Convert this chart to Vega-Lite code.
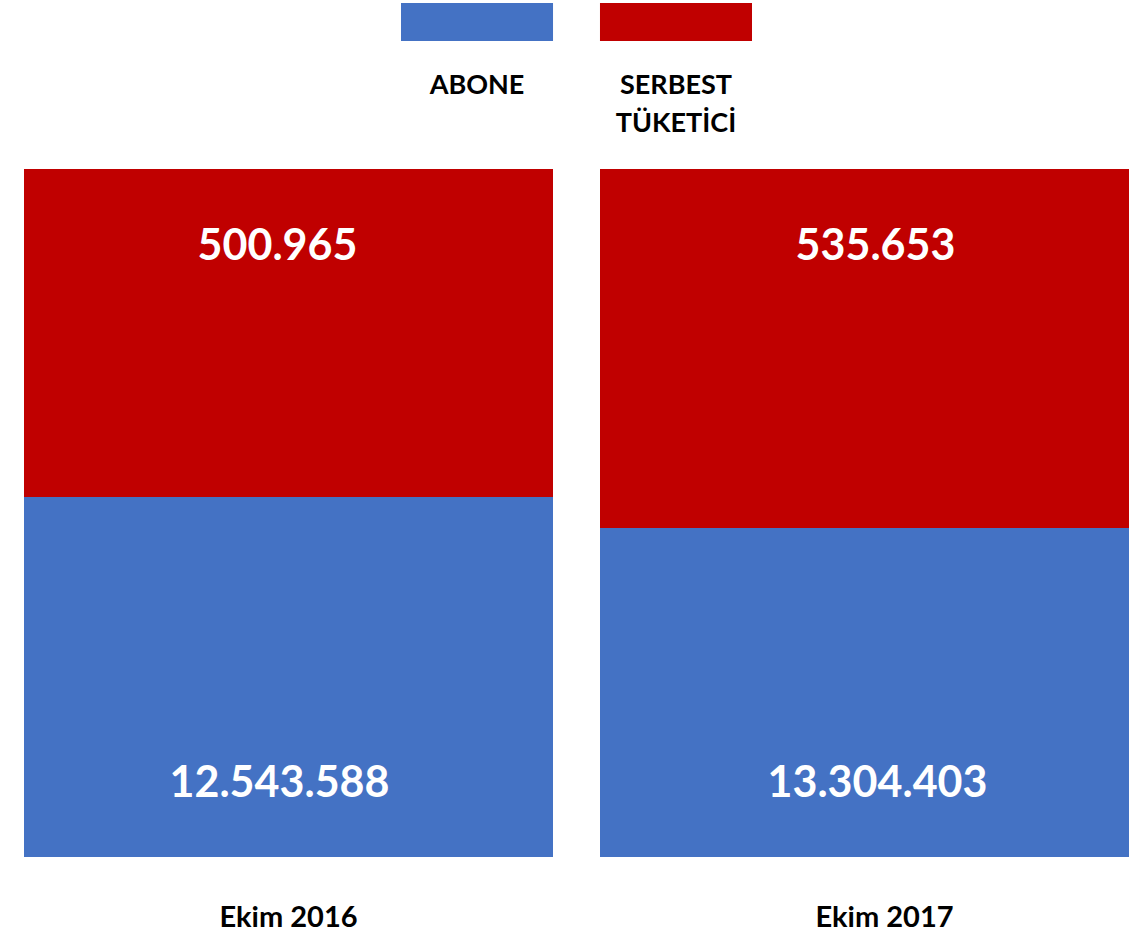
{
  "$schema": "https://vega.github.io/schema/vega-lite/v6.json",
  "padding": {"left": 24, "top": 3, "right": 0, "bottom": 0},
  "background": "white",
  "config": {
    "view": {"stroke": null},
    "font": "Lato",
    "locale": {"number": {"decimal": ",", "thousands": ".", "grouping": [3], "currency": ["₺", ""]}}
  },
  "datasets": {
    "d2016": [
      {"donem": "Ekim 2016", "seri": "ABONE", "deger": 12543588},
      {"donem": "Ekim 2016", "seri": "SERBEST TÜKETİCİ", "deger": 500965}
    ],
    "d2017": [
      {"donem": "Ekim 2017", "seri": "ABONE", "deger": 13304403},
      {"donem": "Ekim 2017", "seri": "SERBEST TÜKETİCİ", "deger": 535653}
    ],
    "seriler": [
      {"seri": "ABONE"},
      {"seri": "SERBEST TÜKETİCİ"}
    ]
  },
  "vconcat": [
    {
      "width": 1105,
      "height": 38,
      "data": {"name": "seriler"},
      "mark": {"type": "bar"},
      "encoding": {
        "x": {
          "field": "seri", "type": "nominal",
          "scale": {"domain": ["ABONE", "SERBEST TÜKETİCİ"], "range": [377, 728], "paddingInner": 0.236, "paddingOuter": 0},
          "axis": {
            "title": null, "orient": "bottom", "ticks": false, "domain": false, "labelAngle": 0,
            "labelFont": "Lato", "labelFontSize": 27, "labelFontWeight": "bold", "labelColor": "#000000",
            "labelPadding": 31, "labelExpr": "split(datum.label, ' ')", "labelLineHeight": 38, "labelLimit": 400
          }
        },
        "color": {
          "field": "seri", "type": "nominal",
          "scale": {"domain": ["ABONE", "SERBEST TÜKETİCİ"], "range": ["#4472C4", "#C00000"]},
          "legend": null
        }
      }
    },
    {
      "hconcat": [
        {
          "width": 529,
          "height": 688,
          "data": {"name": "d2016"},
          "layer": [
            {
              "mark": {"type": "bar", "clip": true},
              "encoding": {
                "x": {"field": "donem", "type": "nominal", "scale": {"paddingInner": 0, "paddingOuter": 0},
                  "axis": {"title": null, "ticks": false, "domain": false, "labelAngle": 0, "labelFont": "Lato", "labelFontSize": 29, "labelFontWeight": "bold", "labelColor": "#000000", "labelPadding": 46}},
                "y": {"field": "deger", "type": "quantitative", "stack": "zero", "scale": {"domain": [11993753, 13044553], "zero": false, "nice": false}, "axis": null},
                "color": {"field": "seri", "type": "nominal", "scale": {"domain": ["ABONE", "SERBEST TÜKETİCİ"], "range": ["#4472C4", "#C00000"]}, "legend": null},
                "order": {"field": "seri", "sort": "ascending"}
              }
            },
            {
              "transform": [{"filter": "datum.seri === 'SERBEST TÜKETİCİ'"}],
              "mark": {"type": "text", "color": "white", "font": "Lato", "fontSize": 43, "fontWeight": "bold", "baseline": "middle", "dy": 78, "dx": -11},
              "encoding": {
                "x": {"field": "donem", "type": "nominal"},
                "y": {"value": 0},
                "text": {"field": "deger", "type": "quantitative", "format": ","}
              }
            },
            {
              "transform": [{"filter": "datum.seri === 'ABONE'"}],
              "mark": {"type": "text", "color": "white", "font": "Lato", "fontSize": 43, "fontWeight": "bold", "baseline": "middle", "dy": -73, "dx": -9},
              "encoding": {
                "x": {"field": "donem", "type": "nominal"},
                "y": {"value": "height"},
                "text": {"field": "deger", "type": "quantitative", "format": ","}
              }
            }
          ]
        },
        {
          "width": 529,
          "height": 688,
          "data": {"name": "d2017"},
          "layer": [
            {
              "mark": {"type": "bar", "clip": true},
              "encoding": {
                "x": {"field": "donem", "type": "nominal", "scale": {"paddingInner": 0, "paddingOuter": 0},
                  "axis": {"title": null, "ticks": false, "domain": false, "labelAngle": 0, "labelFont": "Lato", "labelFontSize": 29, "labelFontWeight": "bold", "labelColor": "#000000", "labelPadding": 46, "labelOffset": 20}},
                "y": {"field": "deger", "type": "quantitative", "stack": "zero", "scale": {"domain": [12813512, 13840056], "zero": false, "nice": false}, "axis": null},
                "color": {"field": "seri", "type": "nominal", "scale": {"domain": ["ABONE", "SERBEST TÜKETİCİ"], "range": ["#4472C4", "#C00000"]}, "legend": null},
                "order": {"field": "seri", "sort": "ascending"}
              }
            },
            {
              "transform": [{"filter": "datum.seri === 'SERBEST TÜKETİCİ'"}],
              "mark": {"type": "text", "color": "white", "font": "Lato", "fontSize": 43, "fontWeight": "bold", "baseline": "middle", "dy": 78, "dx": 11},
              "encoding": {
                "x": {"field": "donem", "type": "nominal"},
                "y": {"value": 0},
                "text": {"field": "deger", "type": "quantitative", "format": ","}
              }
            },
            {
              "transform": [{"filter": "datum.seri === 'ABONE'"}],
              "mark": {"type": "text", "color": "white", "font": "Lato", "fontSize": 43, "fontWeight": "bold", "baseline": "middle", "dy": -73, "dx": 13},
              "encoding": {
                "x": {"field": "donem", "type": "nominal"},
                "y": {"value": "height"},
                "text": {"field": "deger", "type": "quantitative", "format": ","}
              }
            }
          ]
        }
      ],
      "spacing": 47,
      "resolve": {"scale": {"x": "independent", "y": "independent"}}
    }
  ],
  "spacing": 33
}
